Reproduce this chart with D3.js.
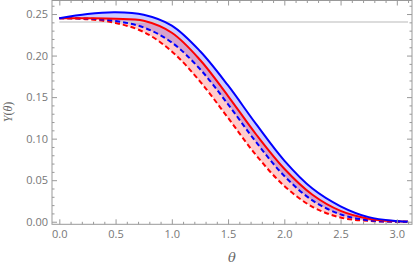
<!DOCTYPE html>
<html>
<head>
<meta charset="utf-8">
<script src="https://cdn.jsdelivr.net/npm/d3@7"></script>
<style>
  body { margin: 0; background: #fff; }
  .tick text { font-family: "Open Sans", "DejaVu Sans", sans-serif; font-size: 11px; fill: #777; }
  .axis path { display: none; }
  .axis line { stroke: #999; }
</style>
</head>
<body>
<script>
var width = 415,
    height = 267;

// data
var theta = [0, 0.25, 0.5, 0.75, 1.0, 1.25, 1.5, 1.75, 2.0, 2.25, 2.5, 2.75, 3.0, 3.1];
var blueSolid  = [0.245, 0.2501, 0.2521, 0.2492, 0.2361, 0.2055, 0.1640, 0.1174, 0.0736, 0.0399, 0.0186, 0.0055, 0.0008, 0.0];
var redSolid   = [0.245, 0.2449, 0.2443, 0.2419, 0.2275, 0.1950, 0.1513, 0.1050, 0.0638, 0.0325, 0.0131, 0.0037, 0.0005, 0.0];
var blueDashed = [0.245, 0.2445, 0.2417, 0.2338, 0.2157, 0.1838, 0.1413, 0.0957, 0.0551, 0.0257, 0.0088, 0.0017, 0.0, 0.0];
var redDashed  = [0.245, 0.2438, 0.2393, 0.2284, 0.2050, 0.1690, 0.1250, 0.0800, 0.0430, 0.0180, 0.0050, 0.0010, 0.0, 0.0];
var refLevel = 0.2405;

var xMajor = [0, 0.5, 1.0, 1.5, 2.0, 2.5, 3.0];
var yMajor = [0, 0.05, 0.10, 0.15, 0.20, 0.25];

var svg = d3.select("body").append("svg")
    .attr("width", width)
    .attr("height", height);

var x = d3.scaleLinear().domain([-0.065, 3.135]).range([52, 412]),
    y = d3.scaleLinear().domain([-0.0031, 0.2669]).range([224.3, 0]);

var xMinor = d3.range(0, 3.15, 0.1).filter(function(t) { return Math.abs(t * 2 - Math.round(t * 2)) > 1e-6; });
var yMinor = d3.range(0, 0.266, 0.01).filter(function(t) { return Math.abs(t * 20 - Math.round(t * 20)) > 1e-6; });

var rows = theta.map(function(t, i) {
  return { t: t, bs: blueSolid[i], rs: redSolid[i], bd: blueDashed[i], rd: redDashed[i] };
});

var curve = d3.curveCatmullRom.alpha(0.5);

// bands
function band(hi, lo) {
  return d3.area().curve(curve)
    .x(function(d) { return x(d.t); })
    .y0(function(d) { return y(d[lo]); })
    .y1(function(d) { return y(d[hi]); });
}
function line(k) {
  return d3.line().curve(curve)
    .x(function(d) { return x(d.t); })
    .y(function(d) { return y(d[k]); });
}

svg.append('path').datum(rows).attr('d', band('bs', 'bd'))
  .attr('fill', '#0000ff').attr('fill-opacity', 0.2);
svg.append('path').datum(rows).attr('d', band('rs', 'rd'))
  .attr('fill', '#ff0000').attr('fill-opacity', 0.2);

// reference level
svg.append('line')
  .attr('x1', x(0)).attr('x2', x(3.1))
  .attr('y1', y(refLevel)).attr('y2', y(refLevel))
  .attr('stroke', '#d0d0d0').attr('stroke-width', 1.5);

var curves = [
  { k: 'rd', color: '#ff0000', dash: '5,3' },
  { k: 'bd', color: '#0000ff', dash: '5,3' },
  { k: 'rs', color: '#ff0000', dash: null },
  { k: 'bs', color: '#0000ff', dash: null }
];
curves.forEach(function(c) {
  svg.append('path').datum(rows)
    .attr('d', line(c.k))
    .attr('fill', 'none')
    .attr('stroke', c.color)
    .attr('stroke-width', 2)
    .attr('stroke-dasharray', c.dash);
});

// frame
svg.append('rect')
  .attr('x', 52).attr('y', 0.5)
  .attr('width', 360).attr('height', 223.8)
  .attr('fill', 'none').attr('stroke', '#999').attr('stroke-width', 1);

// ticks, all four sides, pointing in
svg.append('g').attr('class', 'axis').attr('transform', 'translate(0,224.3)')
  .call(d3.axisBottom(x).tickValues(xMajor).tickSize(-5).tickPadding(6).tickFormat(d3.format('.1f')));
svg.append('g').attr('class', 'axis').attr('transform', 'translate(0,224.3)')
  .call(d3.axisBottom(x).tickValues(xMinor).tickSize(-2.5).tickFormat(''));
svg.append('g').attr('class', 'axis').attr('transform', 'translate(0,0.5)')
  .call(d3.axisTop(x).tickValues(xMajor).tickSize(-5).tickFormat(''));
svg.append('g').attr('class', 'axis').attr('transform', 'translate(0,0.5)')
  .call(d3.axisTop(x).tickValues(xMinor).tickSize(-2.5).tickFormat(''));

svg.append('g').attr('class', 'axis').attr('transform', 'translate(52,0)')
  .call(d3.axisLeft(y).tickValues(yMajor).tickSize(-5).tickPadding(4).tickFormat(d3.format('.2f')));
svg.append('g').attr('class', 'axis').attr('transform', 'translate(52,0)')
  .call(d3.axisLeft(y).tickValues(yMinor).tickSize(-2.5).tickFormat(''));
svg.append('g').attr('class', 'axis').attr('transform', 'translate(412,0)')
  .call(d3.axisRight(y).tickValues(yMajor).tickSize(-5).tickFormat(''));
svg.append('g').attr('class', 'axis').attr('transform', 'translate(412,0)')
  .call(d3.axisRight(y).tickValues(yMinor).tickSize(-2.5).tickFormat(''));

// axis titles
svg.append('text')
  .attr('x', 232).attr('y', 262)
  .attr('text-anchor', 'middle')
  .style('font-family', '"DejaVu Serif", "Liberation Serif", serif')
  .style('font-style', 'italic').style('font-size', '13px').style('fill', '#666')
  .text('θ');

svg.append('text')
  .attr('transform', 'translate(12,112) rotate(-90)')
  .attr('text-anchor', 'middle')
  .style('font-family', '"Liberation Serif", "DejaVu Serif", serif')
  .style('font-size', '12px').style('fill', '#666')
  .html('<tspan font-style="italic">Y</tspan>(<tspan font-style="italic">θ</tspan>)');
</script>
</body>
</html>
